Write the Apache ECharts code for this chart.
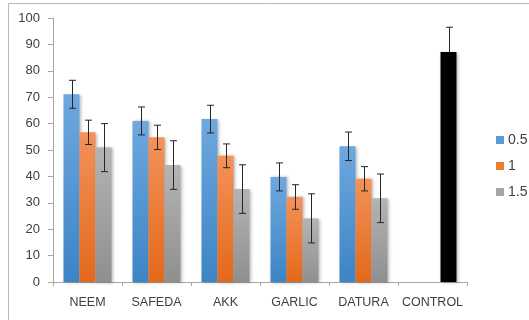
<!DOCTYPE html>
<html>
<head>
<meta charset="utf-8">
<script src="https://cdn.jsdelivr.net/npm/echarts@6/dist/echarts.min.js"></script>
<style>
  html, body { margin: 0; padding: 0; background: #fff; }
  #chart { width: 529px; height: 320px; }
</style>
</head>
<body>
<div id="chart"></div>
<script>
// Treatments along the x axis
const categories = ['NEEM', 'SAFEDA', 'AKK', 'GARLIC', 'DATURA', 'CONTROL'];
const yTicks = { min: 0, max: 100, step: 10 };

// Mean values per dose (CONTROL sits in the 1.5 slot, drawn black)
const dose05 = [71.1, 61.0, 61.7, 39.8, 51.4, null];
const dose1  = [56.7, 54.8, 47.8, 32.2, 39.1, null];
const dose15 = [50.9, 44.3, 35.2, 24.1, 31.7, 87.1];

// Error margins (±) per dose
const err05 = [5.3, 5.3, 5.25, 5.3, 5.4, null];
const err1  = [4.6, 4.6, 4.5, 4.65, 4.6, null];
const err15 = [9.1, 9.2, 9.2, 9.3, 9.2, 9.4];

const seriesNames = ['0.5', '1', '1.5'];

function grad(top, bottom) {
  return new echarts.graphic.LinearGradient(0, 0, 0, 1, [
    { offset: 0, color: top }, { offset: 1, color: bottom }
  ]);
}
const fills = [
  grad('#6ea8de', '#3d84c6'),
  grad('#f3925a', '#e2691b'),
  grad('#b4b4b4', '#8f8f8f')
];
const legendColors = ['#5b9bd5', '#ed7d31', '#a5a5a5'];

const BAR_W = 16;
const shadow = { shadowBlur: 3, shadowOffsetX: 1.5, shadowOffsetY: 0.5, shadowColor: 'rgba(0,0,0,0.28)' };

function barSeries(name, values, idx) {
  return {
    name: name,
    type: 'bar',
    barWidth: BAR_W,
    barGap: '0%',
    data: values.map((v, i) => {
      if (v === null) return '-';
      if (categories[i] === 'CONTROL') {
        return { value: v, itemStyle: { color: '#000000' } };
      }
      return v;
    }),
    itemStyle: Object.assign({ color: fills[idx] }, shadow),
    emphasis: { disabled: true },
    z: 2
  };
}

function errSeries(values, errs, offset) {
  const rows = [];
  values.forEach((v, i) => {
    if (v !== null && errs[i] !== null) rows.push([i, v - errs[i], v + errs[i]]);
  });
  return {
    type: 'custom',
    data: rows,
    encode: { x: 0, y: [1, 2] },
    z: 5,
    silent: true,
    renderItem: function (params, api) {
      const ci = api.value(0);
      const lo = api.coord([ci, api.value(1)]);
      const hi = api.coord([ci, api.value(2)]);
      const cx = Math.round(lo[0] + offset) + 0.5;
      const cap = 3.5;
      const onBlack = categories[ci] === 'CONTROL';
      const st = { stroke: '#262626', lineWidth: 1 };
      const stLow = { stroke: onBlack ? '#000000' : '#262626', lineWidth: 1 };
      return {
        type: 'group',
        children: [
          { type: 'line', shape: { x1: cx, y1: hi[1], x2: cx, y2: lo[1] }, style: stLow },
          { type: 'line', shape: { x1: cx, y1: hi[1], x2: cx, y2: (hi[1] + lo[1]) / 2 }, style: st },
          { type: 'line', shape: { x1: cx - cap, y1: hi[1], x2: cx + cap, y2: hi[1] }, style: st },
          { type: 'line', shape: { x1: cx - cap, y1: lo[1], x2: cx + cap, y2: lo[1] }, style: stLow }
        ]
      };
    }
  };
}

const chart = echarts.init(document.getElementById('chart'), null, { renderer: 'canvas' });
chart.setOption({
  animation: false,
  backgroundColor: '#ffffff',
  textStyle: { fontFamily: 'Liberation Sans' },
  graphic: [{
    type: 'rect',
    shape: { x: 8.5, y: 3.5, width: 560, height: 360 },
    style: { fill: 'none', stroke: '#b8b8b8', lineWidth: 1 },
    z: -10
  }],
  grid: { left: 53, right: 62, top: 18, bottom: 38 },
  legend: {
    orient: 'vertical',
    left: 491,
    top: 128,
    itemWidth: 8,
    itemHeight: 8,
    itemGap: 12,
    icon: 'rect',
    selectedMode: false,
    data: seriesNames.map((n, i) => ({ name: n, itemStyle: { color: legendColors[i] } })),
    textStyle: { fontSize: 14, color: '#404040', fontFamily: 'Liberation Sans', padding: [0, 0, 0, -1] }
  },
  xAxis: {
    type: 'category',
    data: categories,
    axisLine: { lineStyle: { color: '#a6a6a6' } },
    axisTick: { show: true, length: 4, lineStyle: { color: '#a6a6a6' } },
    axisLabel: { interval: 0, fontSize: 12.5, color: '#404040', margin: 14 }
  },
  yAxis: {
    type: 'value',
    min: yTicks.min,
    max: yTicks.max,
    interval: yTicks.step,
    splitLine: { show: false },
    axisLine: { show: true, lineStyle: { color: '#a6a6a6' } },
    axisTick: { show: true, length: 5, lineStyle: { color: '#a6a6a6' } },
    axisLabel: { fontSize: 13, color: '#404040', margin: 13 }
  },
  series: [
    barSeries(seriesNames[0], dose05, 0),
    barSeries(seriesNames[1], dose1, 1),
    barSeries(seriesNames[2], dose15, 2),
    errSeries(dose05, err05, -BAR_W),
    errSeries(dose1, err1, 0),
    errSeries(dose15, err15, BAR_W)
  ]
});
</script>
</body>
</html>
